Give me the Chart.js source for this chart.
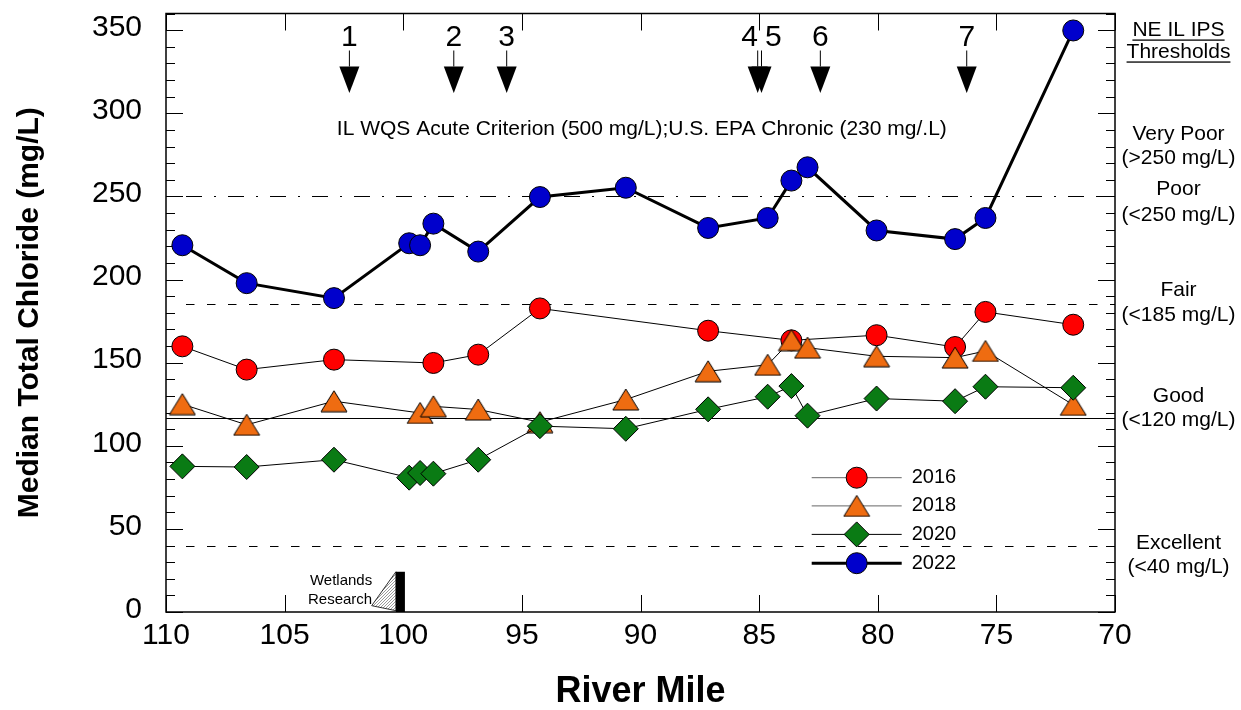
<!DOCTYPE html>
<html>
<head>
<meta charset="utf-8">
<title>Median Total Chloride by River Mile</title>
<script src="https://cdn.jsdelivr.net/npm/chart.js@4.4.1/dist/chart.umd.min.js"></script>
<style>
html,body{margin:0;padding:0;background:#ffffff;}
#box{width:1241px;height:710px;}
canvas{display:block;}
</style>
</head>
<body>
<div id="box"><canvas id="chart" width="1241" height="710"></canvas></div>
<script>
// ---------------- data ----------------
const seriesNames = ['2016', '2018', '2020', '2022'];

const miles2016 = [109.31, 106.6, 102.92, 98.73, 96.84, 94.24, 87.15, 83.64, 80.05, 76.74, 75.46, 71.76];
const chloride2016 = [159.8, 145.8, 151.8, 149.8, 154.8, 182.6, 169.2, 163.4, 166.5, 159.4, 180.5, 172.8];

const miles2018 = [109.31, 106.6, 102.92, 99.29, 98.73, 96.84, 94.24, 90.62, 87.15, 84.64, 83.64, 82.96, 80.05, 76.74, 75.46, 71.76];
const chloride2018 = [125.0, 112.6, 126.8, 119.7, 123.7, 121.8, 114.2, 127.8, 144.8, 148.7, 163.5, 159.0, 153.8, 153.0, 157.0, 124.6];

const miles2020 = [109.31, 106.6, 102.92, 99.75, 99.29, 98.73, 96.84, 94.24, 90.62, 87.15, 84.64, 83.64, 82.96, 80.05, 76.74, 75.46, 71.76];
const chloride2020 = [87.6, 87.2, 91.6, 80.8, 83.6, 83.2, 91.6, 111.8, 110.2, 121.9, 129.5, 135.9, 118.1, 128.4, 126.8, 135.5, 134.9];

const miles2022 = [109.31, 106.6, 102.92, 99.75, 99.29, 98.73, 96.84, 94.24, 90.62, 87.15, 84.64, 83.64, 82.96, 80.05, 76.74, 75.46, 71.76];
const chloride2022 = [220.6, 197.8, 188.8, 221.8, 220.6, 233.6, 216.8, 249.6, 255.2, 231.0, 237.0, 259.5, 267.5, 229.5, 224.3, 237.0, 349.8];

const xTickValues = [110, 105, 100, 95, 90, 85, 80, 75, 70];
const yTickValues = [0, 50, 100, 150, 200, 250, 300, 350];

const arrowMiles = [102.27, 97.87, 95.64, 85.06, 84.9, 82.42, 76.25];
const arrowLabels = ['1', '2', '3', '4', '5', '6', '7'];
const arrowLabelMiles = [102.27, 97.87, 95.64, 85.4, 84.4, 82.42, 76.25];

const thresholdValues = [250, 185, 116.5, 40];

const rightLabelTexts = ['NE IL IPS', 'Thresholds', 'Very Poor', '(>250 mg/L)', 'Poor', '(<250 mg/L)',
  'Fair', '(<185 mg/L)', 'Good', '(<120 mg/L)', 'Excellent', '(<40 mg/L)'];
const rightLabelValues = [349.8, 336.6, 287.4, 273.0, 254.4, 238.8, 193.8, 178.8, 129.6, 115.2, 41.4, 27.0];

const criterionText = 'IL WQS Acute Criterion (500 mg/L);U.S. EPA Chronic (230 mg/.L)';
const criterionMile = 102.8;
const criterionValue = 287.2;

const wetlandsMiles = [101.33, 100.31, 99.93];
const wetlandsValues = [3.8, 24.2, 0.8];
const wetlandsText = ['Wetlands', 'Research'];

const yTitle = 'Median Total Chloride (mg/L)';
const xTitle = 'River Mile';

// ---------------- styling ----------------
const FONT = "'Liberation Sans', Arial, Helvetica, sans-serif";
const RED = '#ff0000', ORANGE = '#ef6c11', GREEN = '#0a7b14', BLUE = '#0000cc';

function triangleMarker(fill) {
  const w = 26, h = 21;
  const c = document.createElement('canvas');
  c.width = w + 2; c.height = h + 2;
  const g = c.getContext('2d');
  g.beginPath();
  g.moveTo((w + 2) / 2, 1);
  g.lineTo(w + 1, h + 1);
  g.lineTo(1, h + 1);
  g.closePath();
  g.fillStyle = fill; g.fill();
  g.lineWidth = 1; g.strokeStyle = '#000'; g.stroke();
  return c;
}
const triImg = triangleMarker(ORANGE);

function pts(m, v) { return m.map((x, i) => ({ x: x, y: v[i] })); }

function dottedPattern(ctx) {
  const c = document.createElement('canvas');
  c.width = 3; c.height = 3;
  const g = c.getContext('2d');
  g.fillStyle = '#ffffff'; g.fillRect(0, 0, 3, 3);
  g.fillStyle = '#9a9a9a';
  g.fillRect(0, 0, 1, 1); g.fillRect(2, 1, 1, 1); g.fillRect(1, 2, 1, 1);
  return ctx.createPattern(c, 'repeat');
}

function drawMarker(ctx, kind, x, y) {
  ctx.save();
  ctx.lineWidth = 1; ctx.strokeStyle = '#000';
  if (kind === 0) {
    ctx.beginPath(); ctx.arc(x, y, 10.5, 0, Math.PI * 2);
    ctx.fillStyle = RED; ctx.fill(); ctx.stroke();
  } else if (kind === 1) {
    ctx.drawImage(triImg, x - triImg.width / 2, y - triImg.height / 2);
  } else if (kind === 2) {
    const r = 12.5;
    ctx.beginPath(); ctx.moveTo(x, y - r); ctx.lineTo(x + r, y); ctx.lineTo(x, y + r); ctx.lineTo(x - r, y); ctx.closePath();
    ctx.fillStyle = GREEN; ctx.fill(); ctx.stroke();
  } else {
    ctx.beginPath(); ctx.arc(x, y, 10.5, 0, Math.PI * 2);
    ctx.fillStyle = BLUE; ctx.fill(); ctx.stroke();
  }
  ctx.restore();
}

function line(ctx, x1, y1, x2, y2) { ctx.beginPath(); ctx.moveTo(x1, y1); ctx.lineTo(x2, y2); ctx.stroke(); }

const decor = {
  id: 'decor',
  beforeDatasetsDraw(chart) {
    const { ctx, chartArea: a, scales: { x, y } } = chart;
    ctx.save();
    ctx.strokeStyle = '#000';
    ctx.lineWidth = 1;
    // threshold lines
    const dashes = [[16, 12, 2, 12], [8.5, 12.5], [], [8.5, 12.5]];
    thresholdValues.forEach((v, i) => {
      const py = Math.round(y.getPixelForValue(v)) + 0.5;
      ctx.setLineDash(dashes[i]);
      const start = dashes[i].length ? a.left + 20 : a.left;
      line(ctx, start, py, a.right, py);
    });
    ctx.setLineDash([]);
    // axis ticks (inside)
    for (let v = 0; v <= 360; v += 10) {
      const py = Math.round(y.getPixelForValue(v)) + 0.5;
      const len = v % 50 === 0 ? 17 : 9;
      line(ctx, a.left, py, a.left + len, py);
      line(ctx, a.right - len, py, a.right, py);
    }
    xTickValues.forEach(m => {
      const px = Math.round(x.getPixelForValue(m)) + 0.5;
      line(ctx, px, a.bottom, px, a.bottom - 17);
      line(ctx, px, a.top, px, a.top + 17);
    });
    // wetlands research marker
    const wx = wetlandsMiles.map(m => x.getPixelForValue(m));
    const wy = wetlandsValues.map(v => y.getPixelForValue(v));
    ctx.beginPath();
    ctx.moveTo(wx[0], wy[0]); ctx.lineTo(wx[1], wy[1]); ctx.lineTo(wx[1], wy[2]); ctx.closePath();
    ctx.fillStyle = dottedPattern(ctx); ctx.fill();
    ctx.lineWidth = 0.8; ctx.stroke();
    ctx.fillStyle = '#000';
    ctx.fillRect(wx[1], wy[1], wx[2] - wx[1], y.getPixelForValue(0) - wy[1]);
    ctx.font = '15px ' + FONT;
    ctx.textAlign = 'right'; ctx.textBaseline = 'middle';
    ctx.fillText(wetlandsText[0], wx[0] + 0.5, wy[1] + 9);
    ctx.fillText(wetlandsText[1], wx[0] + 0.5, wy[1] + 28.5);
    ctx.restore();
  },
  afterDatasetsDraw(chart) {
    const { ctx, chartArea: a, scales: { x, y } } = chart;
    ctx.save();
    // frame
    ctx.strokeStyle = '#000';
    ctx.lineWidth = 1.5;
    ctx.strokeRect(a.left, a.top, a.right - a.left, a.bottom - a.top);
    ctx.fillStyle = '#000';
    // tick labels
    ctx.font = '30px ' + FONT;
    ctx.textAlign = 'right'; ctx.textBaseline = 'middle';
    yTickValues.forEach(v => ctx.fillText(String(v), a.left - 24, y.getPixelForValue(v) - 2.5));
    ctx.textAlign = 'center';
    xTickValues.forEach(m => ctx.fillText(String(m), x.getPixelForValue(m), a.bottom + 24));
    // axis titles
    ctx.font = 'bold 36px ' + FONT;
    ctx.fillText(xTitle, (a.left + a.right) / 2, a.bottom + 80);
    ctx.save();
    ctx.translate(29.5, (a.top + a.bottom) / 2);
    ctx.rotate(-Math.PI / 2);
    ctx.font = 'bold 30px ' + FONT;
    ctx.fillText(yTitle, 0, 0);
    ctx.restore();
    // arrows
    ctx.lineWidth = 1;
    arrowMiles.forEach((m, i) => {
      const px = x.getPixelForValue(m);
      line(ctx, px, a.top + 37, px, a.top + 53);
      ctx.beginPath();
      ctx.moveTo(px - 10, a.top + 53); ctx.lineTo(px + 10, a.top + 53); ctx.lineTo(px, a.top + 79.5); ctx.closePath();
      ctx.fill();
    });
    ctx.font = '30px ' + FONT;
    ctx.textAlign = 'center'; ctx.textBaseline = 'alphabetic';
    arrowLabels.forEach((t, i) => ctx.fillText(t, x.getPixelForValue(arrowLabelMiles[i]), a.top + 32));
    // criterion text
    ctx.font = '21px ' + FONT;
    ctx.textAlign = 'left';
    ctx.fillText(criterionText, x.getPixelForValue(criterionMile), y.getPixelForValue(criterionValue));
    // right threshold labels
    const cx = a.right + 63.5;
    ctx.textAlign = 'center'; ctx.textBaseline = 'middle';
    rightLabelTexts.forEach((t, i) => {
      const py = y.getPixelForValue(rightLabelValues[i]);
      ctx.fillText(t, cx, py);
      if (i < 2) {
        const w = ctx.measureText(t).width;
        ctx.fillRect(cx - w / 2, py + 9, w, 1.3);
      }
    });
    // legend
    const legendRows = [477.7, 505.9, 534.4, 563.2];
    ctx.font = '20px ' + FONT;
    ctx.textAlign = 'left'; ctx.textBaseline = 'middle';
    seriesNames.forEach((name, i) => {
      const py = legendRows[i];
      ctx.strokeStyle = i < 2 ? '#666' : '#000';
      ctx.lineWidth = i === 3 ? 3 : 1;
      line(ctx, 811.7, py, 901.7, py);
      drawMarker(ctx, i, 856.7, py);
      ctx.fillStyle = '#000';
      ctx.fillText(name, 911.7, py);
    });
    ctx.restore();
  }
};

const common = { showLine: true, borderColor: '#000', pointBorderColor: '#000', pointBorderWidth: 1, clip: false, tension: 0 };

new Chart(document.getElementById('chart'), {
  type: 'scatter',
  data: {
    datasets: [
      Object.assign({}, common, { label: seriesNames[0], data: pts(miles2016, chloride2016), borderWidth: 1, pointStyle: 'circle', pointRadius: 10.5, pointBackgroundColor: RED, order: 4 }),
      Object.assign({}, common, { label: seriesNames[1], data: pts(miles2018, chloride2018), borderWidth: 1, pointStyle: triImg, pointRadius: 10, pointBackgroundColor: ORANGE, order: 3 }),
      Object.assign({}, common, { label: seriesNames[2], data: pts(miles2020, chloride2020), borderWidth: 1, pointStyle: 'rectRot', pointRadius: 12.5, pointBackgroundColor: GREEN, order: 2 }),
      Object.assign({}, common, { label: seriesNames[3], data: pts(miles2022, chloride2022), borderWidth: 3, pointStyle: 'circle', pointRadius: 10.5, pointBackgroundColor: BLUE, order: 1 })
    ]
  },
  options: {
    responsive: false,
    maintainAspectRatio: false,
    animation: false,
    devicePixelRatio: 1,
    events: [],
    layout: { padding: { left: 166, right: 126, top: 13, bottom: 98 } },
    plugins: { legend: { display: false }, tooltip: { enabled: false }, title: { display: false } },
    scales: {
      x: { type: 'linear', reverse: true, min: 70, max: 110, display: false },
      y: { type: 'linear', min: 0, max: 360, display: false }
    }
  },
  plugins: [decor]
});
</script>
</body>
</html>
